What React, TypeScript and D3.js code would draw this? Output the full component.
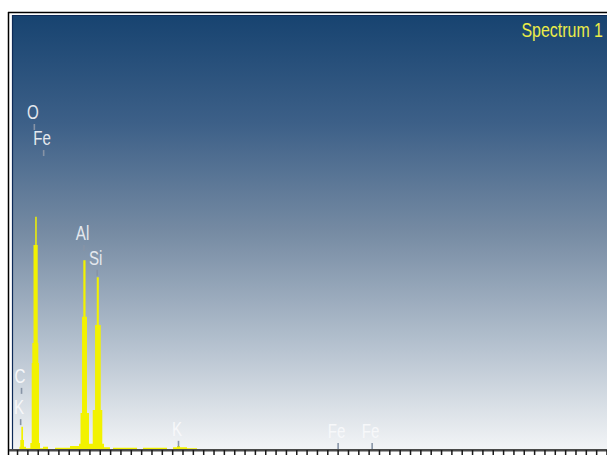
import React from 'react';
import * as d3 from 'd3';

const W = 607;
const H = 455;

// EDS spectrum as step levels: energy (keV) where each level starts, and its counts
const spectrumEnergy = [
  0.09, 0.238, 0.253, 0.273, 0.306, 0.325, 0.364, 0.447, 0.474, 0.486, 0.509, 0.542,
  0.571, 0.59, 0.602, 0.615, 0.634, 0.692, 0.789, 0.925, 1.215, 1.389, 1.418, 1.447,
  1.472, 1.515, 1.543, 1.582, 1.654, 1.699, 1.732, 1.772, 1.809, 1.839, 1.872, 1.988,
  2.046, 2.511, 2.627, 3.091, 3.207, 3.284, 3.342, 3.478, 3.671,
];
const spectrumCounts = [
  0, 5, 21, 51, 21, 5, 2, 14, 198, 244, 470, 535,
  470, 244, 198, 14, 2, 5, 0, 3, 7, 12, 83, 305,
  435, 305, 83, 12, 90, 286, 396, 286, 90, 12, 4, 0,
  3, 0, 3, 0, 4, 7, 4, 2, 0,
];

// Element line markers: label, line energy (keV), marker height (counts)
const markerLabels = ['C', 'K', 'O', 'Fe', 'Al', 'Si', 'K', 'Fe', 'Fe'];
const markerEnergies = [0.277, 0.26, 0.525, 0.705, 1.486, 1.74, 3.313, 6.4, 7.058];
const markerHeights = [127, 55, 735, 675, 456, 399, 5, 0, 0];
const markerOnDark = [false, false, true, true, true, true, false, false, false];

const spectrumTitle = 'Spectrum 1';
const energyMax = 11.6;
const minorStep = 0.2;

const FONT = '"Liberation Sans", Arial, sans-serif';
const NARROW = 0.72;

export default function App() {
  const plotLeft = 13;
  const plotTop = 15;
  const plotBottom = 449;

  const x = d3.scaleLinear().domain([0, energyMax]).range([7.2, 607]);
  const y = d3.scaleLinear().domain([0, 1000]).range([plotBottom, plotTop]);

  const points: [number, number][] = spectrumEnergy.map((e, i) => [e, spectrumCounts[i]]);
  const area = d3
    .area<[number, number]>()
    .x((d) => x(d[0]))
    .y0(y(0))
    .y1((d) => y(d[1]))
    .curve(d3.curveStepAfter);

  const ticks = d3
    .range(0, Math.round(energyMax / minorStep) + 1)
    .map((k) => k * minorStep)
    .filter((e) => x(e) > plotLeft + 1);

  const markers = markerLabels.map((label, i) => ({
    label,
    e: markerEnergies[i],
    h: markerHeights[i],
    dark: markerOnDark[i],
  }));

  return (
    <div style={{ position: 'absolute', left: 0, top: 0 }}>
      <svg width={W} height={H} style={{ display: 'block' }}>
        <defs>
          <linearGradient id="bg" x1="0" y1="0" x2="0" y2="1">
            <stop offset="0" stopColor="#174370" />
            <stop offset="0.25" stopColor="#3d6088" />
            <stop offset="0.5" stopColor="#768ba3" />
            <stop offset="0.75" stopColor="#b2bfcd" />
            <stop offset="1" stopColor="#f2f4f6" />
          </linearGradient>
          <clipPath id="plotClip">
            <rect x={plotLeft} y={plotTop} width={W - plotLeft} height={plotBottom - plotTop} />
          </clipPath>
        </defs>

        <rect x={0} y={0} width={W} height={H} fill="#ffffff" />

        {/* outer frame */}
        <line x1={8.5} y1={12} x2={8.5} y2={H} stroke="#000" strokeWidth={1.5} />
        <line x1={8} y1={12.5} x2={W} y2={12.5} stroke="#000" strokeWidth={1.5} />

        {/* plot background */}
        <rect x={plotLeft} y={plotTop} width={W - plotLeft} height={plotBottom - plotTop} fill="url(#bg)" />
        <line x1={12.5} y1={15} x2={12.5} y2={plotBottom} stroke="#0d2a58" strokeWidth={1.2} />
        <line x1={12} y1={15.5} x2={W} y2={15.5} stroke="#0d2a58" strokeWidth={1.2} />

        {/* spectrum */}
        <g clipPath="url(#plotClip)">
          <path d={area(points) ?? ''} fill="#f2f200" />
        </g>

        {/* element markers */}
        {markers.map((m, i) => {
          const px = x(m.e);
          const tickBottom = y(m.h);
          const tickTop = tickBottom - 6;
          return (
            <g key={i}>
              <line x1={px} y1={tickTop} x2={px} y2={tickBottom} stroke="#8794a6" strokeWidth={1.6} />
              <text
                transform={`translate(${px - 1.5},${tickTop - 5}) scale(${NARROW},1)`}
                textAnchor="middle"
                fontFamily={FONT}
                fontSize={21}
                fill={m.dark ? '#e4e8ee' : '#f7f8fa'}
              >
                {m.label}
              </text>
            </g>
          );
        })}

        {/* title */}
        <text
          transform={`translate(603,37) scale(0.76,1)`}
          textAnchor="end"
          fontFamily={FONT}
          fontSize={21}
          fill="#ecec48"
        >
          {spectrumTitle}
        </text>

        {/* energy ruler */}
        <rect x={9} y={449} width={W - 9} height={2.5} fill="#4a4a4a" />
        {ticks.map((e, i) => (
          <line key={i} x1={x(e)} y1={450} x2={x(e)} y2={H} stroke="#1a1a1a" strokeWidth={1.5} />
        ))}
      </svg>
    </div>
  );
}
